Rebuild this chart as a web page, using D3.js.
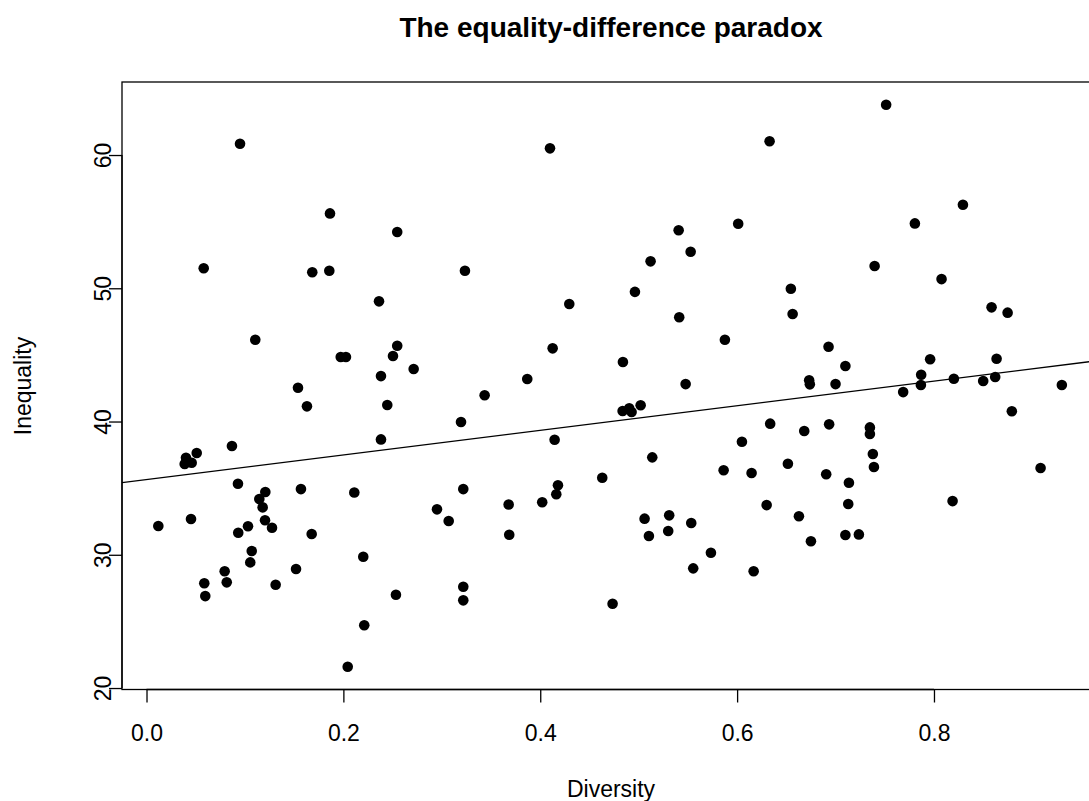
<!DOCTYPE html>
<html><head><meta charset="utf-8">
<script src="https://cdn.jsdelivr.net/npm/d3@7"></script>
<style>body{margin:0;background:#fff}svg{display:block}text{font-family:"Liberation Sans",Arial,Helvetica,sans-serif;fill:#000}</style>
</head><body><svg id="c" width="1089" height="801"></svg>
<script>
const title = "The equality-difference paradox";
const xLabel = "Diversity";
const yLabel = "Inequality";
const xTicks = [0.0, 0.2, 0.4, 0.6, 0.8];
const yTicks = [20, 30, 40, 50, 60];
const fitIntercept = 35.64;
const fitSlope = 9.24;
const diversity = [0.0950,0.1864,0.0581,0.1684,0.1857,0.4099,0.2547,0.3235,0.6330,0.6011,0.5406,0.5528,0.5121,0.4962,0.6546,0.7514,0.8294,0.7806,0.7397,0.8077,
0.1105,0.1973,0.2026,0.1539,0.1630,0.0868,0.0510,0.0401,0.0459,0.0388,0.0929,0.1207,0.1146,0.1569,0.2111,0.2362,0.4295,0.2547,0.2504,0.2714,
0.4126,0.2382,0.3868,0.3435,0.2446,0.3195,0.2382,0.4146,0.3218,0.4630,0.4180,0.4163,0.5412,0.6564,0.5876,0.6929,0.7100,0.4840,0.5477,0.6732,
0.6739,0.7000,0.5020,0.4837,0.4904,0.4928,0.6336,0.6682,0.6935,0.6049,0.5138,0.6516,0.5863,0.6147,0.6905,0.7136,0.8585,0.8748,0.7961,0.8636,
0.7870,0.7867,0.8202,0.8500,0.8622,0.7687,0.9299,0.8791,0.7349,0.7349,0.7379,0.7390,0.9083,0.8189,0.1180,0.1204,0.1275,0.1031,0.0932,0.0120,
0.0452,0.1678,0.1069,0.1054,0.1519,0.0794,0.0815,0.0587,0.0597,0.1312,0.2044,0.2202,0.2212,0.2951,0.3070,0.3679,0.4020,0.3685,0.2534,0.3218,
0.3218,0.5060,0.5104,0.5310,0.5300,0.5534,0.5734,0.5554,0.6168,0.4735,0.6300,0.6628,0.6750,0.7100,0.7237,0.7129];
const inequality = [60.85,55.62,51.50,51.20,51.32,60.50,54.22,51.32,61.03,54.84,54.35,52.74,52.02,49.73,49.97,63.77,56.27,54.87,51.67,50.69,
46.14,44.84,44.84,42.54,41.14,38.16,37.64,37.28,36.91,36.81,35.33,34.71,34.18,34.93,34.67,49.02,48.82,45.69,44.92,43.94,
45.49,43.41,43.19,41.97,41.24,39.96,38.66,38.63,34.93,35.78,35.21,34.54,47.82,48.07,46.14,45.61,44.17,44.47,42.81,43.09,
42.79,42.81,41.22,40.79,40.99,40.71,39.84,39.29,39.79,38.48,37.31,36.83,36.34,36.14,36.04,35.41,48.57,48.17,44.67,44.71,
43.51,42.74,43.21,43.04,43.34,42.21,42.74,40.77,39.56,39.06,37.56,36.59,36.51,34.03,33.56,32.59,32.03,32.14,31.65,32.16,
32.68,31.56,30.28,29.43,28.93,28.76,27.93,27.86,26.90,27.75,21.60,29.85,24.71,33.41,32.53,33.77,33.94,31.50,27.00,27.60,
26.58,32.71,31.41,32.96,31.78,32.38,30.15,28.98,28.76,26.33,33.73,32.89,31.01,31.48,31.53,33.81];

const svg = d3.select("#c");
const L = 122, T = 82, B = 689.5, R = 1121;
const x = d3.scaleLinear().domain([-0.0249, 0.99]).range([L, R]);
const y = d3.scaleLinear().domain([19.89, 65.48]).range([B, T]);

svg.append("defs").append("clipPath").attr("id","clip")
  .append("rect").attr("x",L).attr("y",T).attr("width",R-L).attr("height",B-T);

const data = diversity.map((d,i)=>({x:d,y:inequality[i]}));

svg.append("g").attr("clip-path","url(#clip)")
  .selectAll("circle").data(data).join("circle")
  .attr("cx",d=>x(d.x)).attr("cy",d=>y(d.y)).attr("r",5.3).attr("fill","#000");

const xd = x.domain();
svg.append("line").attr("clip-path","url(#clip)")
  .attr("x1",x(xd[0])).attr("y1",y(fitIntercept+fitSlope*xd[0]))
  .attr("x2",x(xd[1])).attr("y2",y(fitIntercept+fitSlope*xd[1]))
  .attr("stroke","#000").attr("stroke-width",1.3);

svg.append("rect").attr("x",L).attr("y",T).attr("width",R-L).attr("height",B-T)
  .attr("fill","none").attr("stroke","#000").attr("stroke-width",1.3);

const xAxis = d3.axisBottom(x).tickValues(xTicks).tickFormat(d3.format(".1f")).tickSize(13).tickPadding(22);
const gx = svg.append("g").attr("transform",`translate(0,${B})`).call(xAxis);
gx.select(".domain").attr("d",`M${x(xTicks[0])},0H${x(xTicks[xTicks.length-1])}`).attr("stroke-width",1.3);
gx.selectAll(".tick line").attr("stroke-width",1.3);
gx.selectAll("text").attr("font-size",23).attr("font-family","Liberation Sans, Arial, sans-serif");

const yAxis = d3.axisLeft(y).tickValues(yTicks).tickFormat(d3.format("d")).tickSize(13);
const gy = svg.append("g").attr("transform",`translate(${L},0)`).call(yAxis);
gy.select(".domain").attr("d",`M0,${y(yTicks[0])}V${y(yTicks[yTicks.length-1])}`).attr("stroke-width",1.3);
gy.selectAll(".tick line").attr("stroke-width",1.3);
gy.selectAll("text").attr("font-size",23).attr("font-family","Liberation Sans, Arial, sans-serif")
  .attr("x",null).attr("dy",null).attr("text-anchor","middle")
  .attr("transform","translate(-11,0) rotate(-90)");

svg.append("text").attr("x",611).attr("y",37).attr("text-anchor","middle")
  .attr("font-size",28).attr("font-weight","bold").text(title);
svg.append("text").attr("x",611).attr("y",797).attr("text-anchor","middle")
  .attr("font-size",23).text(xLabel);
svg.append("text").attr("transform","translate(31,386) rotate(-90)").attr("text-anchor","middle")
  .attr("font-size",23).text(yLabel);
</script></body></html>
